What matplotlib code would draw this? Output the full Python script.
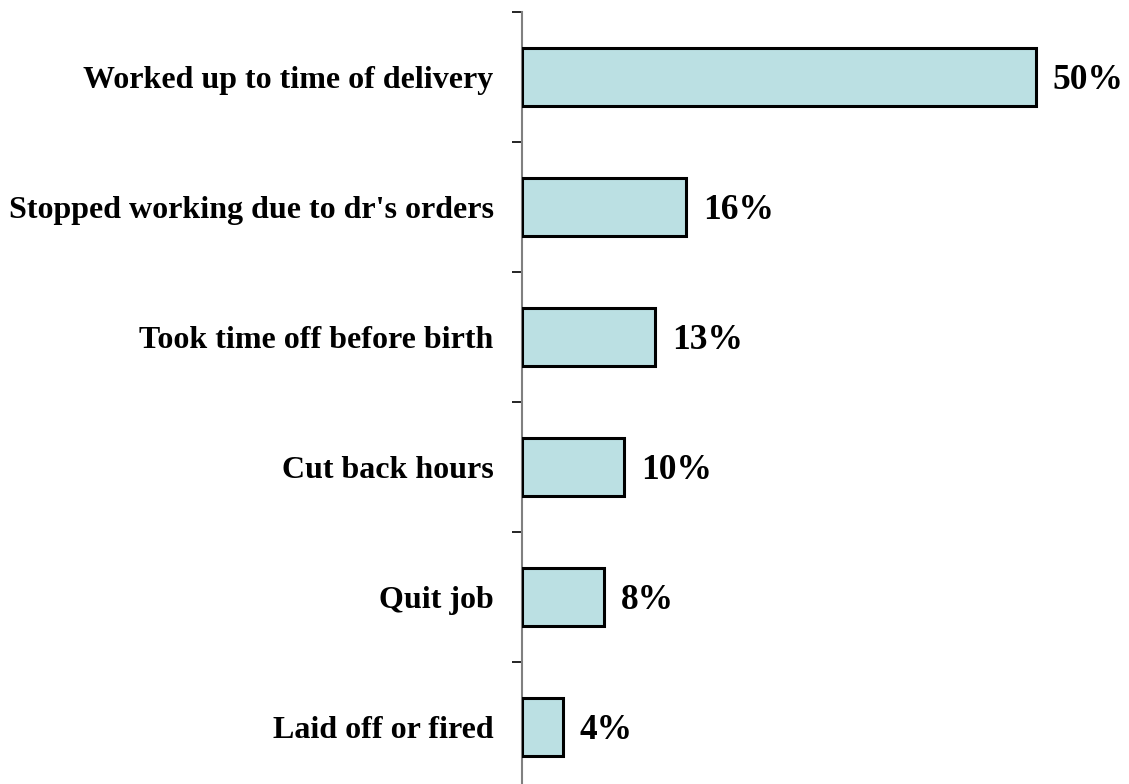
import matplotlib
matplotlib.use("Agg")
import matplotlib.pyplot as plt

categories = [
    "Worked up to time of delivery",
    "Stopped working due to dr's orders",
    "Took time off before birth",
    "Cut back hours",
    "Quit job",
    "Laid off or fired",
]
values = [50, 16, 13, 10, 8, 4]
value_labels = ["50%", "16%", "13%", "10%", "8%", "4%"]

plt.rcParams["font.family"] = ["Liberation Serif", "DejaVu Serif"]

W, H = 1129, 784
fig = plt.figure(figsize=(W / 100, H / 100), dpi=100)
left_px, top_px, bottom_px = 521.5, 12, 792
ax = fig.add_axes([left_px / W, (H - bottom_px) / H,
                   (W - left_px) / W, (bottom_px - top_px) / H])

n = len(categories)
ypos = list(range(n))
ax.barh(ypos, values, height=0.44, color="#BBE0E3",
        edgecolor="black", linewidth=2.2, zorder=3)

px_per_unit = 10.28
ax.set_xlim(0, (W - left_px) / px_per_unit)
ax.set_ylim(n - 0.5, -0.5)

for y, v, lab in zip(ypos, values, value_labels):
    ax.annotate(lab, (v, y), xytext=(12, -2.5), textcoords="offset points",
                ha="left", va="center", fontsize=25.5, fontweight="bold")

ax.set_yticks([i - 0.5 for i in range(n + 1)])
ax.set_yticklabels([])
ax.set_yticks(ypos, minor=True)
ax.set_yticklabels(categories, minor=True, fontsize=23, fontweight="bold")
ax.tick_params(axis="y", which="major", length=7, width=1.2, color="black",
               direction="out")
ax.tick_params(axis="y", which="minor", length=0, pad=20)
ax.set_xticks([])

for s in ["top", "right", "bottom"]:
    ax.spines[s].set_visible(False)
ax.spines["left"].set_color("#808080")
ax.spines["left"].set_linewidth(1.5)

fig.savefig("out.png", dpi=100)
